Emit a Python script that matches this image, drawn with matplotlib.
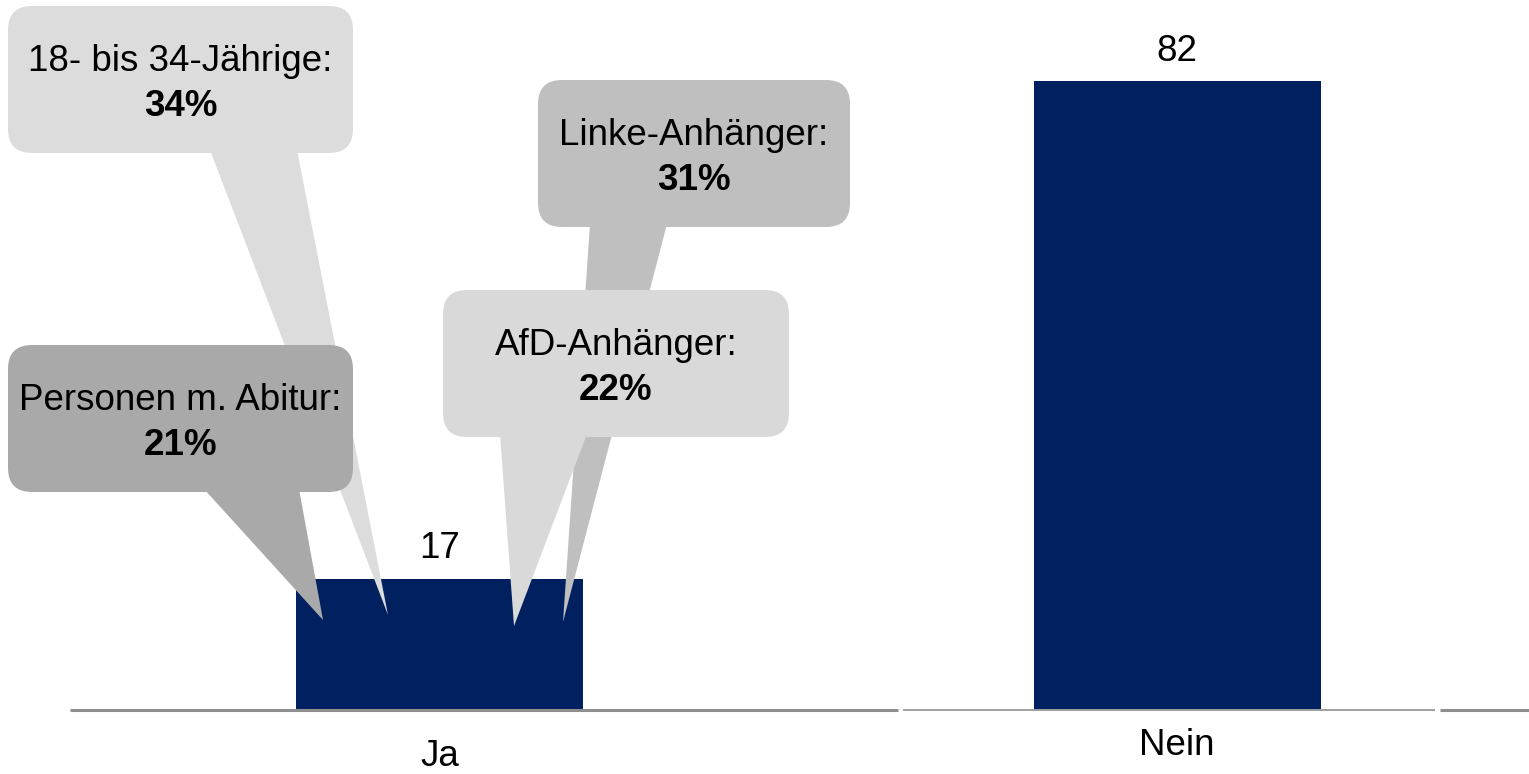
import matplotlib.pyplot as plt
from matplotlib.patches import FancyBboxPatch, Polygon

plt.rcParams["font.family"] = ["Liberation Sans", "DejaVu Sans"]

# data
categories = ["Ja", "Nein"]
values = [17, 82]
callout_labels = ["18- bis 34-Jährige:", "Linke-Anhänger:", "AfD-Anhänger:", "Personen m. Abitur:"]
callout_values = ["34%", "31%", "22%", "21%"]

BAR_COLOR = "#002060"
FONT_SIZE = 26.5
W_PX, H_PX = 1529, 774

# callout layout in pixels: box (x0, y0, x1, y1), tail top (xl, xr, y), tip (x, y), colour
callout_layout = [
    ((8, 6, 353, 153), (210, 297, 150), (388, 615), "#DCDCDC"),
    ((538, 80, 850, 227), (590, 667, 224), (563, 622), "#BFBFBF"),
    ((443, 290, 789, 437), (500, 587, 434), (514, 626), "#D9D9D9"),
    ((8, 345, 353, 492), (204, 299, 489), (323, 620), "#A9A9A9"),
]
draw_order = [0, 3, 1, 2]


def main() -> None:
    fig = plt.figure(figsize=(W_PX / 100, H_PX / 100), dpi=100)

    # bar axes, scaled so the bars sit where they do in the source
    ax = fig.add_axes([0, 0, 1, 1])
    ax.set_xlim(-0.596, 1.477)
    ax.set_ylim(-8.42, 92.64)
    ax.axis("off")
    x = list(range(len(categories)))
    ax.bar(x, values, width=0.389, color=BAR_COLOR, zorder=2)
    for xi, v in zip(x, values):
        ax.annotate(str(v), (xi, v), xytext=(0, 15), textcoords="offset points",
                    ha="center", va="baseline", fontsize=FONT_SIZE, color="black")
    label_offsets = [-40.5, -33]
    for xi, cat, off in zip(x, categories, label_offsets):
        ax.annotate(cat, (xi, 0), xytext=(0, off), textcoords="offset points",
                    ha="center", va="baseline", fontsize=FONT_SIZE, color="black")

    # overlay in pixel coordinates for the baseline and the speech bubbles
    ov = fig.add_axes([0, 0, 1, 1], zorder=3)
    ov.set_xlim(0, W_PX)
    ov.set_ylim(H_PX, 0)
    ov.patch.set_alpha(0)
    ov.axis("off")

    ov.plot([70, 898], [710, 710], color="#8F8F8F", lw=2.2, solid_capstyle="butt")
    ov.plot([903, 1435], [710, 710], color="#A0A0A0", lw=1.4, solid_capstyle="butt")
    ov.plot([1440, W_PX], [710, 710], color="#8F8F8F", lw=2.2, solid_capstyle="butt")

    for i in draw_order:
        (x0, y0, x1, y1), (tl, tr, ty), (px, py), col = callout_layout[i]
        ov.add_patch(Polygon([(tl, ty), (tr, ty), (px, py)], closed=True,
                             facecolor=col, edgecolor="none"))
        ov.add_patch(FancyBboxPatch((x0, y0), x1 - x0, y1 - y0,
                                    boxstyle="round,pad=0,rounding_size=24",
                                    facecolor=col, edgecolor="none"))
        cx = (x0 + x1) / 2
        ov.text(cx, y0 + 65, callout_labels[i], ha="center", va="baseline",
                fontsize=FONT_SIZE, color="black")
        ov.text(cx, y0 + 110, callout_values[i], ha="center", va="baseline",
                fontsize=FONT_SIZE, fontweight="bold", color="black")

    fig.savefig("out.png", dpi=100)
    plt.close(fig)


if __name__ == "__main__":
    main()
